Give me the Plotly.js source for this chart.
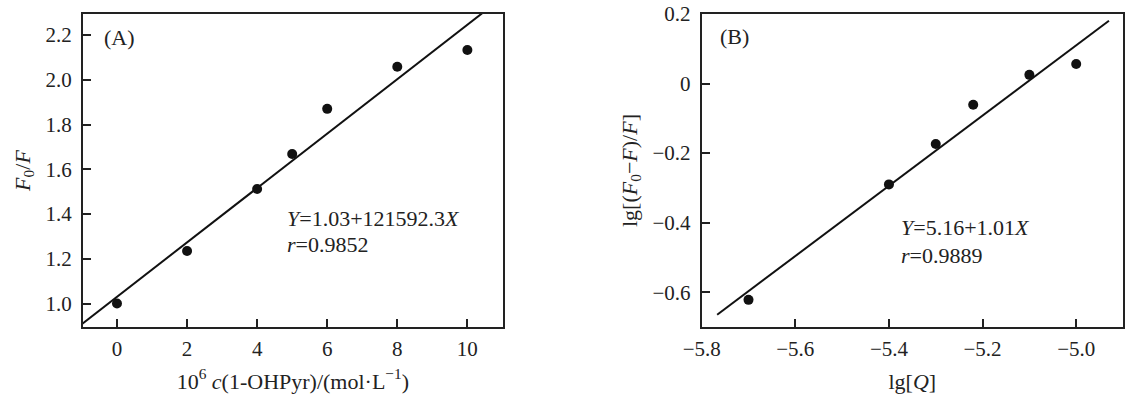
<!DOCTYPE html>
<html><head><meta charset="utf-8">
<script src="https://cdn.plot.ly/plotly-3.0.1.min.js"></script>
<style>html,body{margin:0;padding:0;background:#fff;}#chart{width:1135px;height:410px;}</style>
</head><body><div id="chart"></div>
<script>
// Panel A data
const concA = [0, 2, 4, 5, 6, 8, 10];
const ratioA = [1.00, 1.235, 1.512, 1.668, 1.870, 2.058, 2.133];
const fitA = {intercept: 1.03, slope: 0.1215923};
const fitAX = [-1, 10.5];
// Panel B data
const lgQ = [-5.70, -5.40, -5.30, -5.22, -5.10, -5.00];
const lgRatio = [-0.622, -0.290, -0.174, -0.061, 0.025, 0.056];
const fitB = {intercept: 5.16, slope: 1.01};
const fitBX = [-5.767, -4.93];

const fA = fitAX.map(x => fitA.intercept + fitA.slope * x);
const fB = fitBX.map(x => fitB.intercept + fitB.slope * x);

const FONT = "'Liberation Serif', 'Times New Roman', serif";
const INK = '#222';

const axisBase = {
  showline: true, linecolor: INK, linewidth: 2, mirror: true,
  ticks: 'inside', ticklen: 8, tickwidth: 2, tickcolor: INK,
  showgrid: false, zeroline: false,
  tickfont: {family: FONT, size: 21, color: INK},
  fixedrange: true
};

const traces = [
  {x: fitAX, y: fA, xaxis: 'x', yaxis: 'y', mode: 'lines', line: {color: '#111', width: 2}, hoverinfo: 'skip'},
  {x: concA, y: ratioA, xaxis: 'x', yaxis: 'y', mode: 'markers', marker: {color: '#111', size: 10}},
  {x: fitBX, y: fB, xaxis: 'x2', yaxis: 'y2', mode: 'lines', line: {color: '#111', width: 2}, hoverinfo: 'skip'},
  {x: lgQ, y: lgRatio, xaxis: 'x2', yaxis: 'y2', mode: 'markers', marker: {color: '#111', size: 10}}
];

const ann = (x, y, xref, yref, text) => ({x, y, xref, yref, text, showarrow: false,
  xanchor: 'left', yanchor: 'middle', font: {family: FONT, size: 22, color: INK}});

const layout = {
  width: 1135, height: 410,
  margin: {l: 83, r: 12, t: 14, b: 83},
  paper_bgcolor: '#fff', plot_bgcolor: '#fff',
  showlegend: false,
  font: {family: FONT, color: INK, size: 21},
  xaxis: Object.assign({}, axisBase, {
    domain: [0, 0.4036], range: [-0.97, 11.01], tick0: 0, dtick: 2,
    ticklabelstandoff: 2,
    title: {text: '10<sup>6</sup> <i>c</i>(1-OHPyr)/(mol·L<sup>−1</sup>)', font: {family: FONT, size: 22, color: INK}, standoff: 13}
  }),
  yaxis: Object.assign({}, axisBase, {
    domain: [0, 1], range: [0.895, 2.294], tick0: 1, dtick: 0.2, tickformat: '.1f',
    ticklabelstandoff: 5,
    title: {text: '<i>F</i><sub>0</sub>/<i>F</i>', font: {family: FONT, size: 22, color: INK}, standoff: 9}
  }),
  xaxis2: Object.assign({}, axisBase, {
    domain: [0.5949, 1], range: [-5.8, -4.9], tick0: -5.8, dtick: 0.2, tickformat: '.1f',
    ticklabelstandoff: 2, anchor: 'y2',
    title: {text: 'lg[<i>Q</i>]', font: {family: FONT, size: 22, color: INK}, standoff: 13}
  }),
  yaxis2: Object.assign({}, axisBase, {
    domain: [0, 1], range: [-0.70, 0.2], tick0: 0, dtick: 0.2, anchor: 'x2',
    ticklabelstandoff: 5,
    title: {text: 'lg[(<i>F</i><sub>0</sub>−<i>F</i>)/<i>F</i>]', font: {family: FONT, size: 22, color: INK}, standoff: 9}
  }),
  annotations: [
    ann(-0.43, 2.19, 'x', 'y', '(A)'),
    ann(4.8, 1.381, 'x', 'y', '<i>Y</i>=1.03+121592.3<i>X</i>'),
    ann(4.8, 1.265, 'x', 'y', '<i>r</i>=0.9852'),
    ann(-5.766, 0.134, 'x2', 'y2', '(B)'),
    ann(-5.379, -0.415, 'x2', 'y2', '<i>Y</i>=5.16+1.01<i>X</i>'),
    ann(-5.379, -0.493, 'x2', 'y2', '<i>r</i>=0.9889')
  ]
};

Plotly.newPlot('chart', traces, layout, {displayModeBar: false, staticPlot: true});
</script>
</body></html>
